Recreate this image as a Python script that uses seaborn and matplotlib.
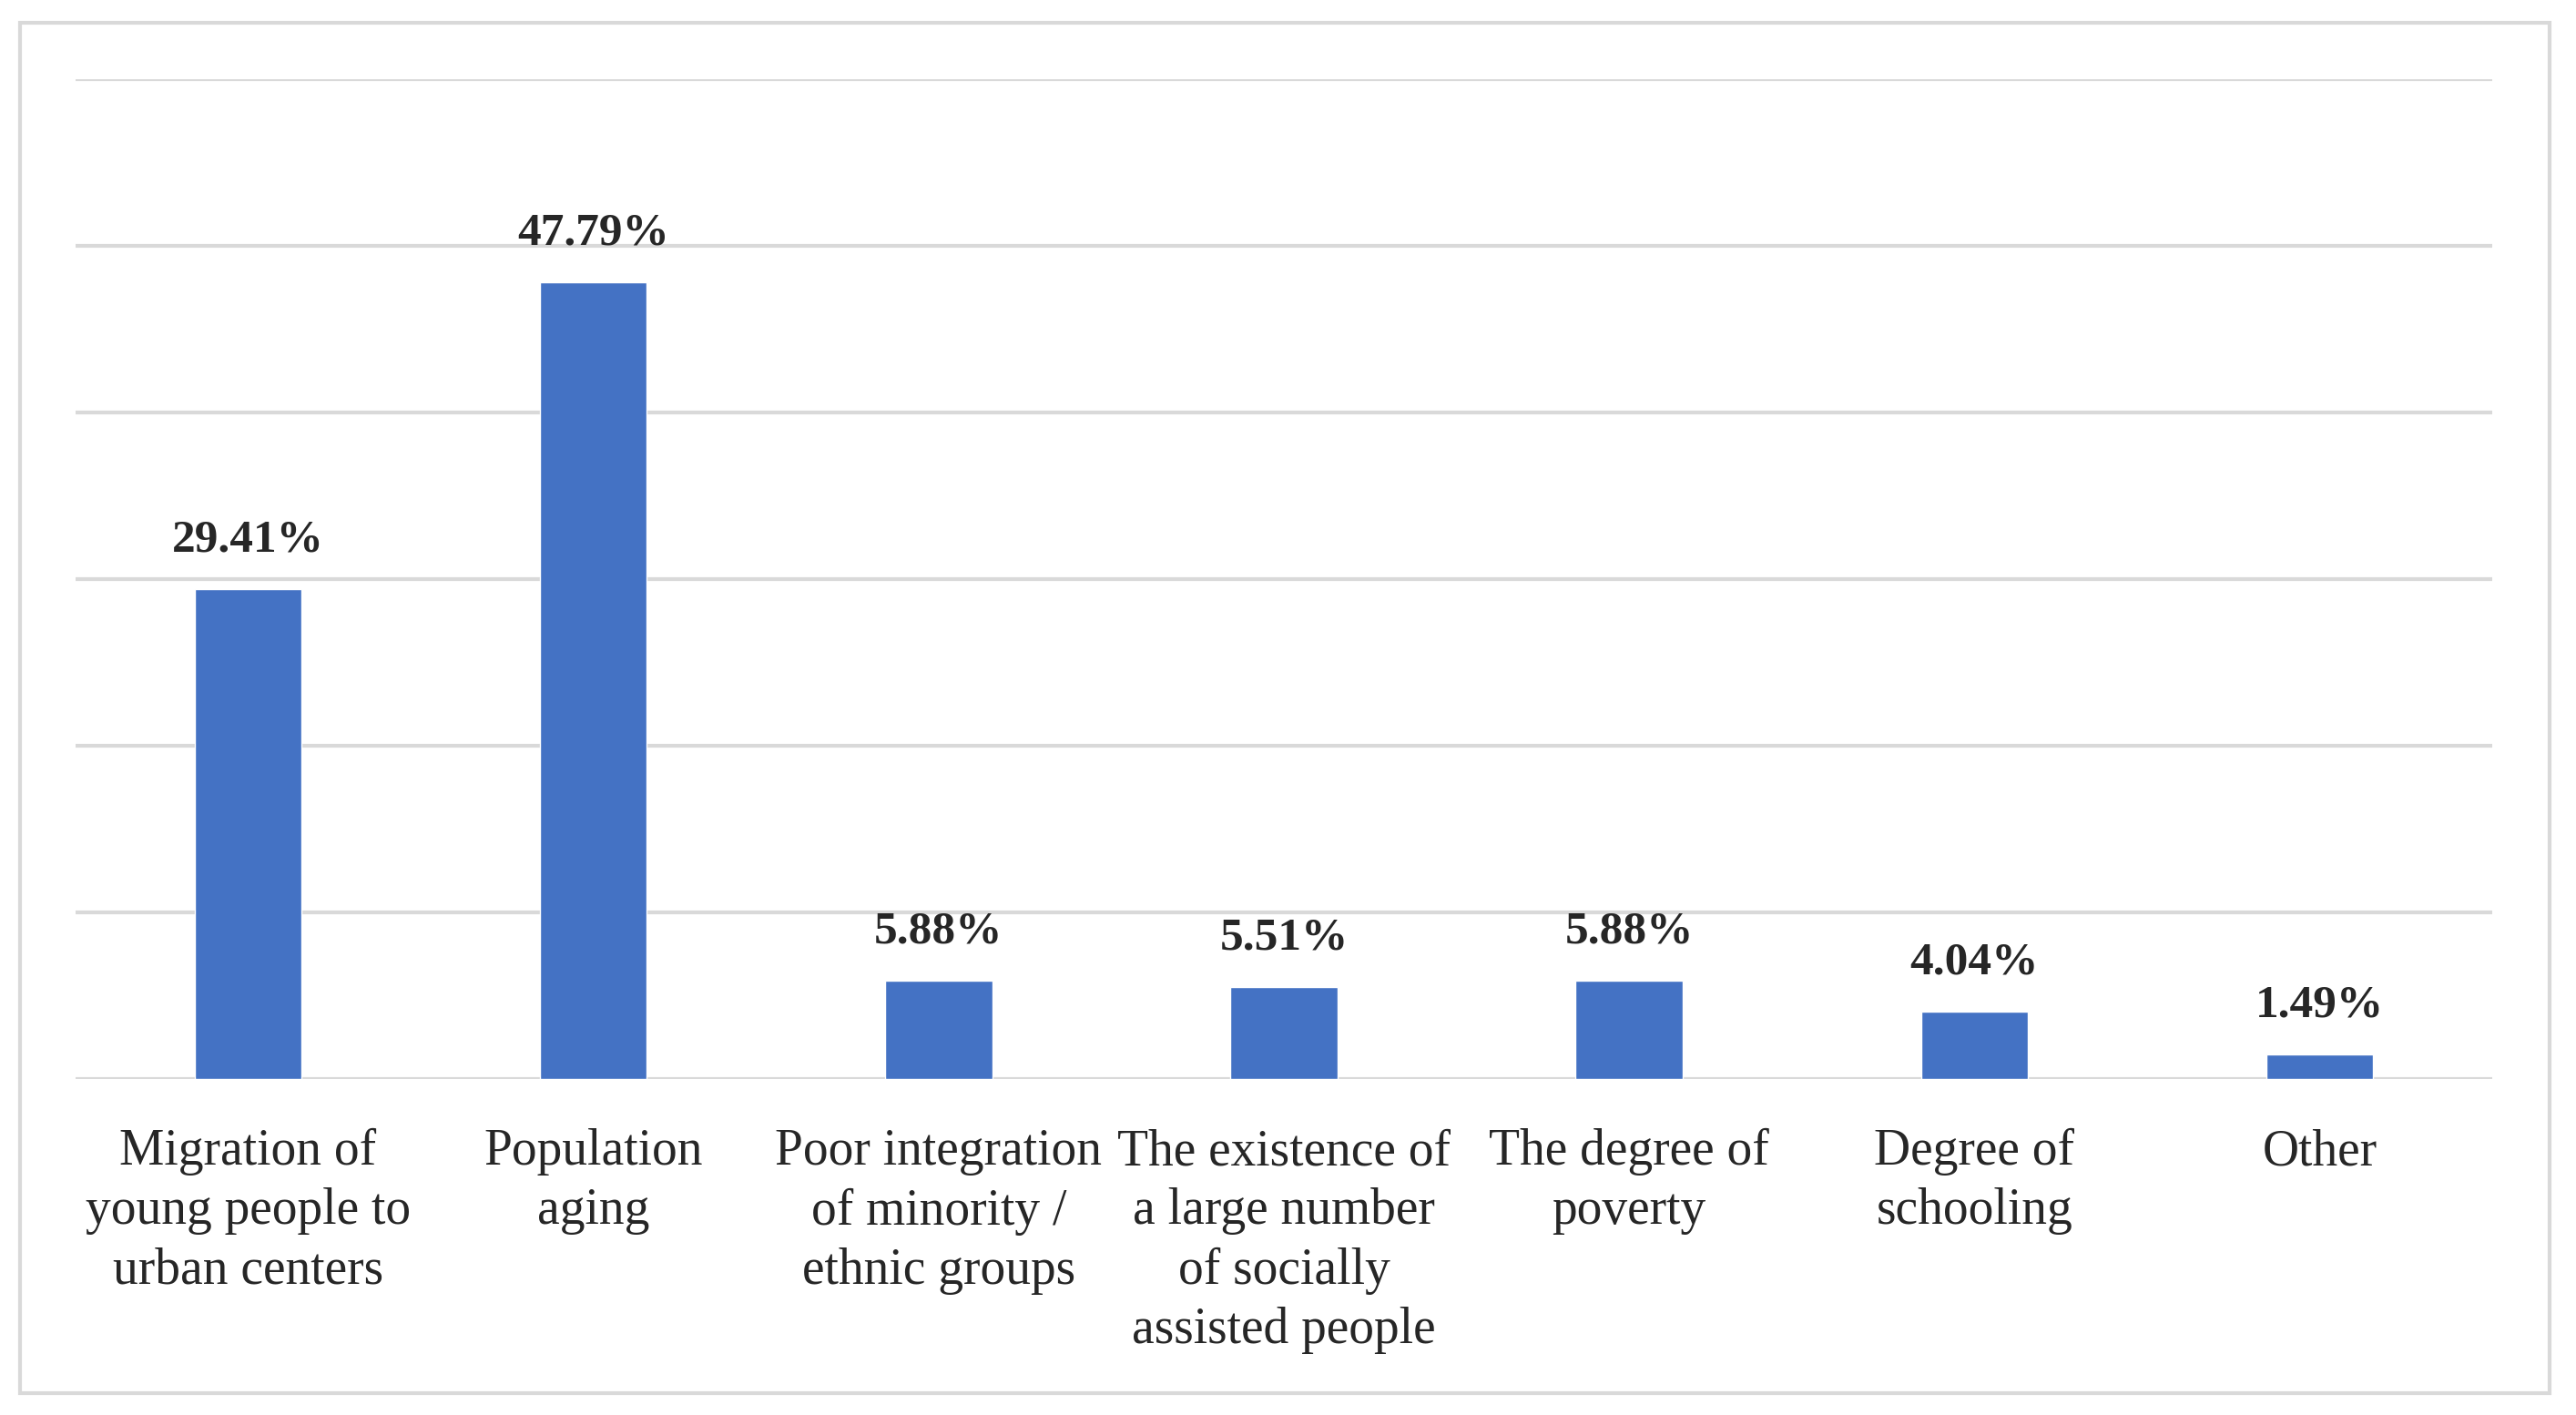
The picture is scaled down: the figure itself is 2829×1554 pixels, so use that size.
import matplotlib
matplotlib.use("Agg")
import matplotlib.pyplot as plt
import seaborn as sns
import pandas as pd
from matplotlib.patches import Rectangle

categories = [
    "Migration of\nyoung people to\nurban centers",
    "Population\naging",
    "Poor integration\nof minority /\nethnic groups",
    "The existence of\na large number\nof socially\nassisted people",
    "The degree of\npoverty",
    "Degree of\nschooling",
    "Other",
]
values = [29.41, 47.79, 5.88, 5.51, 5.88, 4.04, 1.49]
labels = ["29.41%", "47.79%", "5.88%", "5.51%", "5.88%", "4.04%", "1.49%"]

df = pd.DataFrame({"cat": categories, "val": values})

sns.set_theme(style="white")
plt.rcParams["font.family"] = ["Liberation Serif", "DejaVu Serif"]

fig = plt.figure(figsize=(28.29, 15.54), dpi=100)
ax = fig.add_axes([0.0293, 0.2375, 0.9382, 0.7065])

sns.barplot(data=df, x="cat", y="val", color="#4472C4", width=0.31,
            saturation=1, ax=ax, zorder=3)

ax.set_ylim(0, 60)
ax.set_xlim(-0.5, len(categories) - 0.5)
ax.set_yticks(range(0, 61, 10))
ax.yaxis.grid(True, color="#d9d9d9", linewidth=3, zorder=0)
ax.set_axisbelow(True)
ax.tick_params(axis="y", left=False, labelleft=False)
ax.tick_params(axis="x", bottom=False, pad=33, labelsize=40)
for lab in ax.get_xticklabels():
    lab.set_linespacing(1.33)
    lab.set_verticalalignment("top")
ax.set_xlabel("")
ax.set_ylabel("")
for s in ["top", "right", "left", "bottom"]:
    ax.spines[s].set_visible(False)

for i, (v, t) in enumerate(zip(values, labels)):
    ax.annotate(t, (i, v), xytext=(0, 22), textcoords="offset points",
                ha="center", va="bottom", fontsize=37, fontweight="bold")

fig.patches.append(Rectangle((22 / 2829, 1 - 1530 / 1554), (2800 - 22) / 2829,
                             (1530 - 25) / 1554, transform=fig.transFigure,
                             fill=False, edgecolor="#d9d9d9", linewidth=3))

fig.savefig("out.png", dpi=100, facecolor="white")
